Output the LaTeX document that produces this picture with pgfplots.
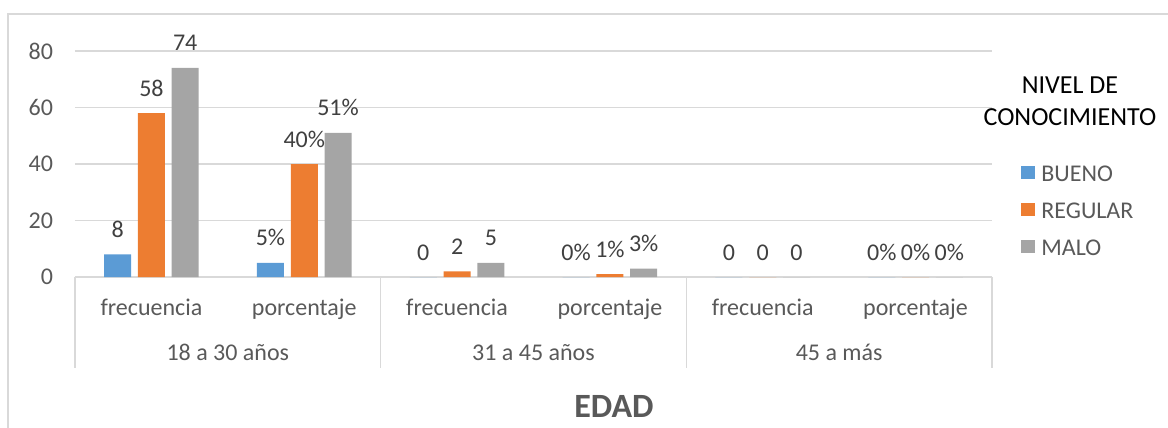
\documentclass[border=0pt]{standalone}
\usepackage{fontspec}
\setmainfont{Carlito}
\usepackage{pgfplots}
\pgfplotsset{compat=1.18}
\definecolor{cBueno}{HTML}{5B9BD5}
\definecolor{cRegular}{HTML}{ED7D31}
\definecolor{cMalo}{HTML}{A5A5A5}
\definecolor{cGrid}{HTML}{D9D9D9}
\definecolor{cText}{HTML}{595959}
\definecolor{cLabel}{HTML}{404040}

\pgfplotsset{
  exbar/.style={fill=#1, draw=none,
    legend image code/.code={\fill[#1] (0pt,-3pt) rectangle (7pt,3.5pt);}},
}

\begin{document}
\begin{tikzpicture}
\begin{axis}[
    name=ax, at={(0,0)}, anchor=south west,
    width=458.5pt, height=113pt, scale only axis,
    xmin=-0.5, xmax=5.5, ymin=0, ymax=80,
    ybar=3.4pt, bar width=13.5pt,
    xtick={0,1,2,3,4,5},
    xticklabels={frecuencia,porcentaje,frecuencia,porcentaje,frecuencia,porcentaje},
    ytick={0,20,40,60,80},
    axis line style={draw=none},
    major tick length=0pt,
    ymajorgrids,
    grid style={draw=cGrid, line width=0.75pt},
    tick label style={font=\fontsize{12}{14}\selectfont, text=cText},
    /pgf/number format/assume math mode=true,
    xticklabel style={anchor=base, yshift=-19pt},
    yticklabel style={xshift=-7.5pt},
    point meta=explicit symbolic,
    nodes near coords,
    every node near coord/.append style={font=\fontsize{12}{14}\selectfont, text=cLabel, anchor=base, yshift=8.5pt},
    legend style={at={(rel axis cs:1.0316,0.504)}, anchor=north west,
        draw=none, fill=none, inner sep=0pt, row sep=9.6pt, column sep=3pt,
        font=\fontsize{12}{14}\selectfont, text=cText,
        nodes={inner sep=0pt, text height=9pt, text depth=0pt}},
    legend cell align=left,
    clip=false,
]
\addplot[exbar=cBueno] coordinates {
    (0,8) [8] (1,5) [5\%] (2,0) [0] (3,0) [0\%] (4,0) [0] (5,0) [0\%]
};
\addplot[exbar=cRegular] coordinates {
    (0,58) [58] (1,40) [40\%] (2,2) [2] (3,1) [1\%] (4,0) [0] (5,0) [0\%]
};
\addplot[exbar=cMalo] coordinates {
    (0,74) [74] (1,51) [51\%] (2,5) [5] (3,3) [3\%] (4,0) [0] (5,0) [0\%]
};
\legend{BUENO, REGULAR, MALO}

% multi-level category axis
\pgfplotsinvokeforeach{-0.5,1.5,3.5,5.5}{
  \draw[cGrid, line width=0.75pt] (axis cs:#1,0) -- ++(0pt,-45.5pt);
}
\node[anchor=base, yshift=-41.5pt, text=cText, font=\fontsize{12}{14}\selectfont] at (axis cs:0.5,0) {18 a 30 años};
\node[anchor=base, yshift=-41.5pt, text=cText, font=\fontsize{12}{14}\selectfont] at (axis cs:2.5,0) {31 a 45 años};
\node[anchor=base, yshift=-41.5pt, text=cText, font=\fontsize{12}{14}\selectfont] at (axis cs:4.5,0) {45 a más};

% axis title
\node[anchor=base, yshift=-70pt, text=cText, font=\bfseries\fontsize{17}{20}\selectfont] at (rel axis cs:0.5878,0) {EDAD};

% legend title
\node[anchor=base, font=\fontsize{13}{15}\selectfont, text=black] at (rel axis cs:1.085,0.814) {NIVEL DE};
\node[anchor=base, font=\fontsize{13}{15}\selectfont, text=black] at (rel axis cs:1.085,0.6726) {CONOCIMIENTO};
\end{axis}

% chart border
\draw[cGrid, line width=0.75pt] (ax.south west) ++(-33.5pt,-80pt) -- ++(0,211.5pt) -- ++(600pt,0);

\pgfresetboundingbox
\path (ax.south west) ++(-37.5pt,-75.5pt) rectangle ++(584pt,214pt);
\end{tikzpicture}
\end{document}
